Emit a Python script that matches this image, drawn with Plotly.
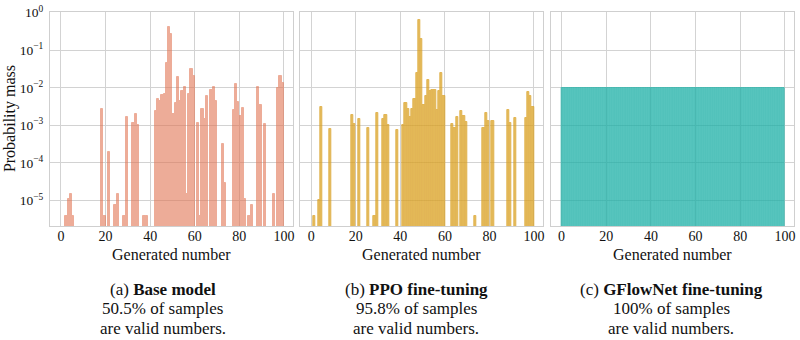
import plotly.graph_objects as go

# ---------------- data ----------------
numbers = list(range(100))

base_numbers = [2, 3, 4, 5, 18, 19, 21, 24, 25, 28, 29, 32, 33, 34, 37, 38,
                42, 43, 44, 45, 46, 47, 48, 49, 50, 51, 52, 53, 54, 55, 56, 57, 58, 59,
                61, 62, 63, 64, 65, 67, 68, 69, 72, 73, 77, 78, 79, 80, 81, 82,
                84, 85, 88, 89, 91, 95, 97, 98, 99]
base_mass = [3.9e-6, 1.1e-5, 1.5e-5, 3.9e-6, 2.8e-3, 3.9e-6, 2.0e-4, 7.5e-6, 1.5e-5, 3.9e-6,
             1.7e-3, 1.15e-3, 2.0e-3, 1.0e-3, 3.9e-6, 3.9e-6,
             2.4e-3, 4.9e-3, 4.6e-3, 6.6e-3, 6.9e-3, 0.045, 0.42, 0.27, 2.0e-3, 3.85e-3,
             0.020, 4.4e-3, 8.1e-3, 0.0108, 1.5e-5, 6.9e-3, 0.032, 0.0207,
             1.15e-3, 3.9e-6, 2.7e-3, 1.5e-3, 6.1e-3, 8.5e-3, 0.0108, 4.6e-3, 3.2e-4, 3.0e-5,
             2.6e-3, 0.0126, 4.2e-3, 1.8e-3, 2.9e-3, 1.1e-5,
             3.9e-6, 7.5e-6, 0.0108, 3.5e-3, 1.1e-3, 1.5e-5, 0.0100, 0.021, 0.0135]

ppo_numbers = [1, 3, 4, 8, 18, 19, 21, 25, 28, 29, 32, 33, 34, 38,
               41, 42, 43, 44, 45, 46, 47, 48, 49, 50, 51, 52, 53, 54, 55, 56, 57, 58, 59,
               63, 64, 65, 67, 68, 69, 73, 77, 78, 79, 81, 88, 89, 91, 96, 97, 98, 99]
ppo_mass = [3.9e-6, 1.0e-5, 3.1e-3, 8.1e-4, 1.9e-3, 1.1e-3, 1.5e-3, 8.5e-4, 3.9e-6, 2.2e-3,
            1.45e-3, 1.9e-3, 1.0e-3, 7.6e-4,
            1.0e-3, 4.0e-3, 2.8e-3, 1.67e-3, 2.7e-3, 5.2e-3, 0.0243, 0.63, 0.20, 3.4e-3,
            5.9e-3, 0.0162, 8.1e-3, 8.5e-3, 8.5e-3, 2.6e-3, 8.1e-3, 0.0243, 6.0e-3,
            1.1e-3, 8.5e-4, 1.7e-3, 2.4e-3, 1.8e-3, 1.26e-3, 3.9e-6, 8.5e-4, 2.2e-3, 1.3e-3,
            1.3e-3, 2.6e-3, 1.15e-3, 1.55e-3, 1.55e-3, 7.6e-3, 6.0e-3, 3.1e-3]

gfn_mass = [0.0101, 0.0100, 0.0099, 0.0101, 0.0100, 0.0098, 0.0100, 0.0101, 0.0099, 0.0100,
            0.0101, 0.0100, 0.0099, 0.0100, 0.0101, 0.0100, 0.0098, 0.0100, 0.0101, 0.0100,
            0.0099, 0.0101, 0.0100, 0.0100, 0.0099, 0.0101, 0.0100, 0.0098, 0.0101, 0.0100,
            0.0100, 0.0099, 0.0101, 0.0100, 0.0100, 0.0101, 0.0099, 0.0100, 0.0101, 0.0100,
            0.0099, 0.0100, 0.0101, 0.0100, 0.0098, 0.0100, 0.0101, 0.0100, 0.0099, 0.0101,
            0.0100, 0.0100, 0.0101, 0.0099, 0.0100, 0.0101, 0.0100, 0.0098, 0.0100, 0.0101,
            0.0100, 0.0099, 0.0101, 0.0100, 0.0100, 0.0101, 0.0099, 0.0100, 0.0101, 0.0100,
            0.0099, 0.0100, 0.0101, 0.0100, 0.0098, 0.0100, 0.0101, 0.0100, 0.0099, 0.0101,
            0.0100, 0.0100, 0.0101, 0.0099, 0.0100, 0.0101, 0.0100, 0.0098, 0.0100, 0.0101,
            0.0100, 0.0099, 0.0101, 0.0100, 0.0100, 0.0101, 0.0099, 0.0100, 0.0101, 0.0100]

x_ticks = [0, 20, 40, 60, 80, 100]
y_tickvals = [1, 1e-1, 1e-2, 1e-3, 1e-4, 1e-5]
y_ticktext = ["10<sup>0</sup>", "10<sup>−1</sup>", "10<sup>−2</sup>", "10<sup>−3</sup>",
              "10<sup>−4</sup>", "10<sup>−5</sup>"]

caption_titles = ["(a) <b>Base model</b>", "(b) <b>PPO fine-tuning</b>",
                  "(c) <b>GFlowNet fine-tuning</b>"]
caption_rates = ["50.5% of samples", "95.8% of samples", "100% of samples"]
caption_tail = "are valid numbers."
x_title = "Generated number"
y_title = "Probability mass"

# ---------------- figure ----------------
W, H = 800, 340
L, R, T, B = 50, 4, 10, 114
PW, PH = W - L - R, H - T - B
FONT = "Liberation Serif, Times New Roman, serif"
TXT = "#111111"
GRID = "#d3d3d3"


def dom(a, b):
    return [(a - L) / PW, (b - L) / PW]


def px_y(py):
    return (T + PH - py) / PH


def px_x(px):
    return (px - L) / PW


domains = [dom(50, 293.3), dom(301, 544), dom(552, 795.6)]
caption_cx = [163, 417, 673]

# (x values, y values, fill colour, edge colour, trace opacity)
series = [
    (base_numbers, base_mass, "rgb(226,118,84)", "rgb(226,118,84)", 0.6),
    (ppo_numbers, ppo_mass, "rgb(218,160,30)", "rgb(216,155,24)", 0.74),
    (numbers, gfn_mass, "rgb(27,175,166)", "rgb(27,175,166)", 0.75),
]

fig = go.Figure()
for i, (xs, ys, fill, edge, op) in enumerate(series):
    sfx = "" if i == 0 else str(i + 1)
    fig.add_trace(go.Bar(
        x=xs, y=ys, width=1, offset=0, opacity=op,
        marker=dict(color=fill, line=dict(color=edge, width=1)),
        xaxis="x" + sfx, yaxis="y" + sfx, showlegend=False,
    ))

layout = dict(
    width=W, height=H,
    margin=dict(l=L, r=R, t=T, b=B, pad=0),
    paper_bgcolor="white", plot_bgcolor="white",
    font=dict(family=FONT, size=14, color=TXT),
    bargap=0,
)

annotations = []
for i in range(3):
    sfx = "" if i == 0 else str(i + 1)
    layout["xaxis" + sfx] = dict(
        domain=domains[i], range=[-4.9, 103.9], anchor="y" + sfx,
        tickvals=x_ticks, showgrid=True, gridcolor=GRID, gridwidth=1,
        zeroline=False, showline=True, mirror=True, linecolor="#cfcfcf", linewidth=1.2,
        ticks="", tickfont=dict(size=14, family=FONT, color=TXT), ticklabelstandoff=-3,
    )
    layout["yaxis" + sfx] = dict(
        domain=[0, 1], type="log", range=[-5.68, 0.02], anchor="x" + sfx,
        tickvals=y_tickvals, ticktext=y_ticktext, showticklabels=(i == 0),
        showgrid=True, gridcolor=GRID, gridwidth=1, zeroline=False,
        showline=True, mirror=True, linecolor="#cfcfcf", linewidth=1.2,
        ticks="", tickfont=dict(size=13.5, family=FONT, color=TXT), ticklabelstandoff=3,
    )
    cx = (domains[i][0] + domains[i][1]) / 2
    annotations.append(dict(
        text=x_title, x=cx, y=px_y(255), xref="paper", yref="paper",
        xanchor="center", yanchor="middle", showarrow=False,
        font=dict(size=16, family=FONT, color=TXT)))
    for text, py in zip([caption_titles[i], caption_rates[i], caption_tail],
                        [289.7, 309.7, 329.7]):
        annotations.append(dict(
            text=text, x=px_x(caption_cx[i]), y=px_y(py), xref="paper", yref="paper",
            xanchor="center", yanchor="middle", showarrow=False,
            font=dict(size=17, family=FONT, color=TXT)))

annotations.append(dict(
    text=y_title, x=px_x(10), y=0.5, xref="paper", yref="paper",
    xanchor="center", yanchor="middle", textangle=-90, showarrow=False,
    font=dict(size=16, family=FONT, color=TXT)))
layout["annotations"] = annotations

fig.update_layout(**layout)
fig.write_html("out.html")
